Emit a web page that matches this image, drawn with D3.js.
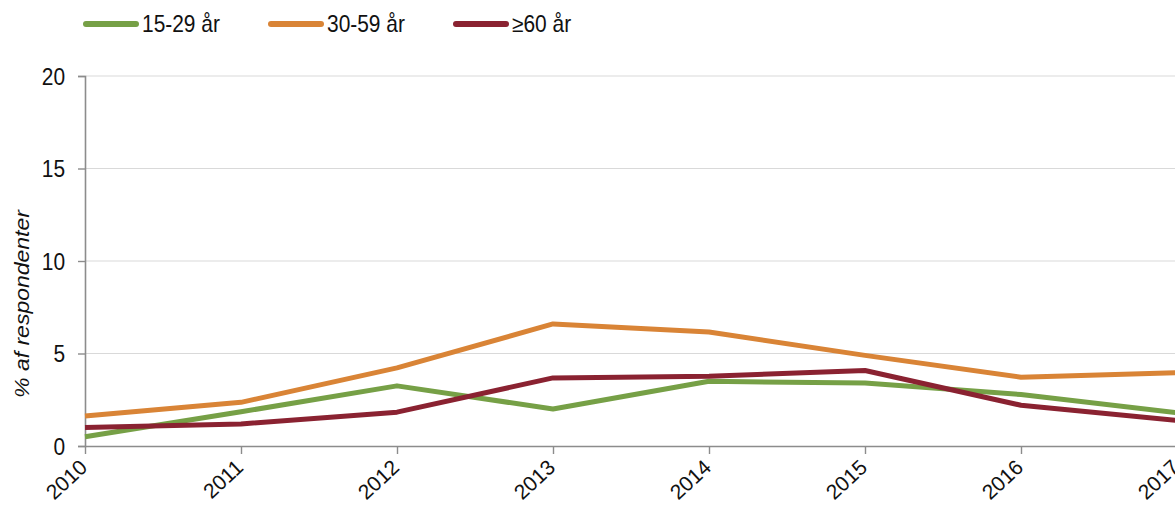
<!DOCTYPE html>
<html>
<head>
<meta charset="utf-8">
<script src="https://cdn.jsdelivr.net/npm/d3@7"></script>
<style>
  html, body { margin: 0; padding: 0; background: #fff; overflow: hidden; }
  svg { display: block; font-family: "Liberation Sans", Arial, sans-serif; }
</style>
</head>
<body>
<svg id="chart" width="1175" height="505"></svg>
<script>
// Years on the x axis
const years = [2010, 2011, 2012, 2013, 2014, 2015, 2016, 2017];

// Share of respondents (%) by age group
const age15to29 = [0.5, 1.85, 3.25, 2.0, 3.5, 3.4, 2.78, 1.8];
const age30to59 = [1.62, 2.36, 4.22, 6.6, 6.16, 4.9, 3.72, 3.96];
const age60plus = [1.0, 1.19, 1.83, 3.68, 3.77, 4.08, 2.2, 1.38];

const seriesNames = ["15-29 år", "30-59 år", "≥60 år"];
const seriesColors = ["#76a046", "#d98436", "#8a2231"];
const yTicks = [0, 5, 10, 15, 20];
const yLabel = "% af respondenter";

const series = [age15to29, age30to59, age60plus].map((vals, i) => ({
  name: seriesNames[i],
  color: seriesColors[i],
  values: vals.map((v, j) => ({ year: years[j], value: v }))
}));

const svg = d3.select("#chart");
const plotLeft = 85, plotTop = 76, plotBottom = 446;
const fontSize = 23;
const squeeze = 0.91;   // text is set slightly condensed

const x = d3.scaleLinear().domain([2010, 2017]).range([plotLeft, 1177]);
const y = d3.scaleLinear().domain([0, 20]).range([plotBottom, plotTop]);

// Horizontal gridlines
svg.append("g")
  .selectAll("line")
  .data(yTicks.filter(d => d > 0))
  .join("line")
  .attr("x1", plotLeft).attr("x2", 1175)
  .attr("y1", d => y(d)).attr("y2", d => y(d))
  .attr("stroke", "#d9d9d9").attr("stroke-width", 1.2);

// Y axis
const yAxis = svg.append("g")
  .attr("transform", `translate(${plotLeft},0)`)
  .call(d3.axisLeft(y).tickValues(yTicks).tickSize(7).tickFormat(d3.format("d")));
yAxis.select(".domain").attr("stroke", "#8c8c8c").attr("stroke-width", 1.6);
yAxis.selectAll(".tick line").attr("stroke", "#8c8c8c").attr("stroke-width", 1.4);
yAxis.selectAll(".tick text")
  .attr("font-size", fontSize).attr("fill", "#111")
  .attr("font-family", "Liberation Sans, Arial, sans-serif")
  .attr("x", -20 / squeeze)
  .attr("dy", "0.35em")
  .attr("transform", `scale(${squeeze},1)`);

// X axis
const xAxis = svg.append("g")
  .attr("transform", `translate(0,${plotBottom})`)
  .call(d3.axisBottom(x).tickValues(years).tickSize(8).tickSizeOuter(0).tickFormat(d3.format("d")));
xAxis.select(".domain").attr("stroke", "#8c8c8c").attr("stroke-width", 1.6);
xAxis.selectAll(".tick line").attr("stroke", "#8c8c8c").attr("stroke-width", 1.4);
xAxis.selectAll(".tick text")
  .attr("font-size", 21).attr("fill", "#111")
  .attr("font-family", "Liberation Sans, Arial, sans-serif")
  .attr("text-anchor", "end")
  .attr("dy", null)
  .attr("y", 0)
  .attr("transform", "translate(3,23) rotate(-43)");

// Y axis title
svg.append("text")
  .attr("transform", `translate(28.5,304) scale(${squeeze},1) rotate(-90)`)
  .attr("text-anchor", "middle")
  .attr("font-size", fontSize)
  .attr("font-style", "italic")
  .attr("fill", "#111")
  .text(yLabel);

// Lines
const line = d3.line().x(d => x(d.year)).y(d => y(d.value));
svg.append("g")
  .selectAll("path")
  .data(series)
  .join("path")
  .attr("d", d => line(d.values))
  .attr("fill", "none")
  .attr("stroke", d => d.color)
  .attr("stroke-width", 5)
  .attr("stroke-linejoin", "round");

// Legend
const legendX = [83, 268, 453];
const legend = svg.append("g")
  .selectAll("g")
  .data(series)
  .join("g")
  .attr("transform", (d, i) => `translate(${legendX[i]},24)`);
legend.append("line")
  .attr("x1", 3).attr("x2", 53)
  .attr("stroke", d => d.color)
  .attr("stroke-width", 6)
  .attr("stroke-linecap", "round");
legend.append("text")
  .attr("transform", `translate(59,8.3) scale(${squeeze},1)`)
  .attr("font-size", fontSize).attr("fill", "#111")
  .text(d => d.name);
</script>
</body>
</html>
